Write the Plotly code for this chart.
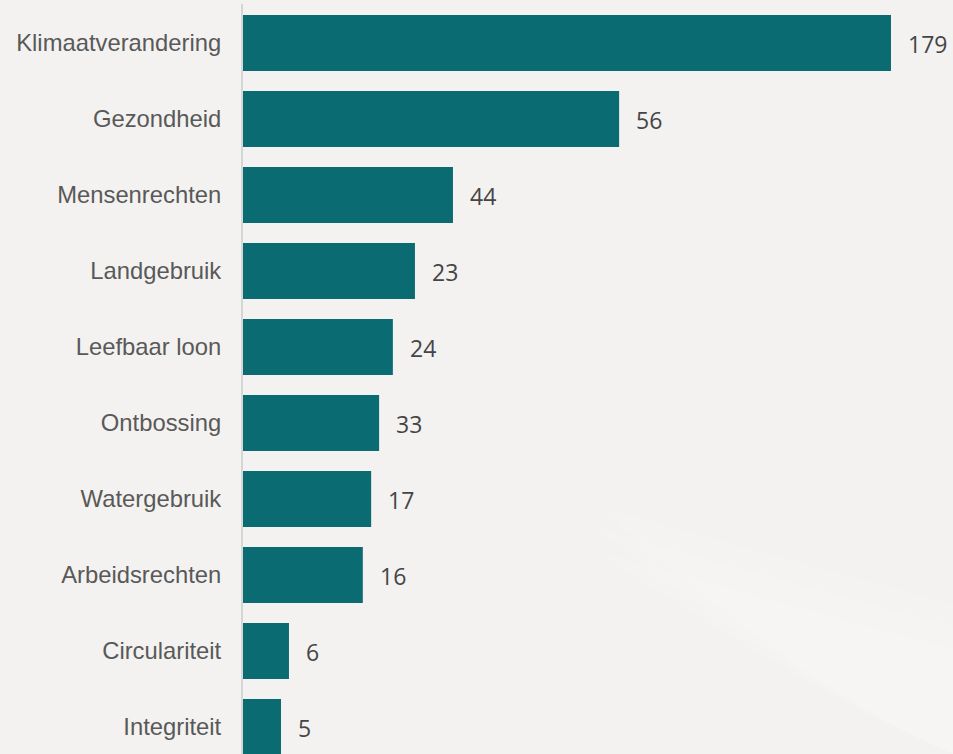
import plotly.graph_objects as go

categories = ["Klimaatverandering", "Gezondheid", "Mensenrechten", "Landgebruik",
              "Leefbaar loon", "Ontbossing", "Watergebruik", "Arbeidsrechten",
              "Circulariteit", "Integriteit"]
# bar lengths as drawn in the picture (scaled so the first bar = 179)
bar_lengths = [179, 103.9, 58.0, 47.5, 41.4, 37.6, 35.4, 33.1, 12.7, 10.5]
# value labels as printed next to the bars
value_labels = ["179", "56", "44", "23", "24", "33", "17", "16", "6", "5"]

BAR_COLOR = "#0b6b73"
BG = "#f3f2f0"

fig = go.Figure()
fig.add_trace(go.Bar(
    x=bar_lengths, y=categories, orientation="h",
    marker=dict(color=BAR_COLOR, line=dict(width=0)),
    width=0.737, hoverinfo="skip",
))

for cat, val, lab in zip(categories, bar_lengths, value_labels):
    fig.add_annotation(x=val, y=cat, text=lab, showarrow=False,
                       xanchor="left", yanchor="middle", xshift=15, yshift=-1,
                       font=dict(family="Open Sans", size=23, color="#454545"))

# subtle white swoosh in the background (soft, layered)
for op, dy in [(0.10, 0.03), (0.12, 0.0), (0.10, -0.03)]:
    fig.add_shape(type="path", xref="paper", yref="paper", layer="below",
                  path=f"M 0.5 {0.30+dy} Q 0.8 {0.22+dy} 1.0 {0.17+dy} L 1.0 0.0 Q 0.8 0.08 0.5 {0.30+dy} Z",
                  fillcolor=f"rgba(255,255,255,{op})", line=dict(width=0))

fig.update_layout(
    width=953, height=754,
    margin=dict(l=243, r=0, t=4, b=0),
    paper_bgcolor=BG, plot_bgcolor="rgba(0,0,0,0)",
    showlegend=False,
    bargap=0.26,
    xaxis=dict(range=[0, 196.13], visible=False, fixedrange=True),
    yaxis=dict(type="category", categoryorder="array", categoryarray=categories,
               range=[9.355, -0.513], showgrid=False, zeroline=False,
               showline=True, linecolor="#d6d6d6", linewidth=2,
               ticks="", ticklabelstandoff=15,
               tickfont=dict(family="Liberation Sans", size=23.8, color="#595959")),
)

fig.write_html("out.html", config={"displayModeBar": False},
               post_script="document.body.style.margin='0';document.body.style.overflow='hidden';")
